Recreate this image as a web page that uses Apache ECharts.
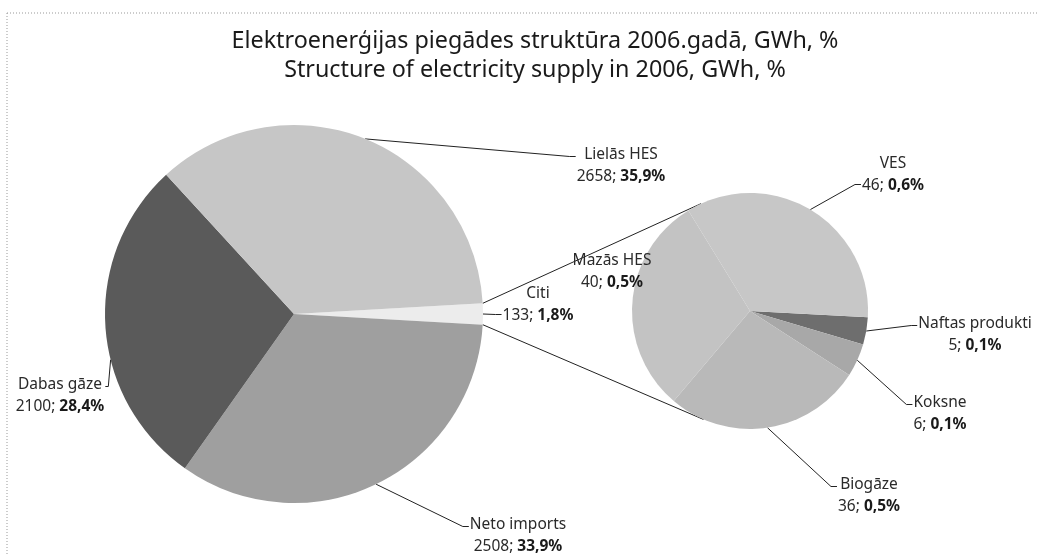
<!DOCTYPE html>
<html>
<head>
<meta charset="utf-8">
<script src="https://cdn.jsdelivr.net/npm/echarts@6/dist/echarts.min.js"></script>
<style>
  html, body { margin: 0; padding: 0; background: #fff; }
  #chart { width: 1038px; height: 555px; }
</style>
</head>
<body>
<div id="chart"></div>
<script>
// main pie, clockwise from the right
const mainNames = ['Citi', 'Neto imports', 'Dabas gāze', 'Lielās HES'];
const mainValues = [133, 2508, 2100, 2658];
// secondary pie (breakdown of Citi), clockwise from the right
const subNames = ['Naftas produkti', 'Koksne', 'Biogāze', 'Mazās HES', 'VES'];
const subValues = [5, 6, 36, 40, 46];

const mainColors = ['#ececec', '#9f9f9f', '#5a5a5a', '#c6c6c6'];
const subColors = ['#6e6e6e', '#a8a8a8', '#b9b9b9', '#c3c3c3', '#c7c7c7'];

// label centres
const labelPos = {
  'Lielās HES': [621, 166],
  'Neto imports': [518, 536],
  'Dabas gāze': [60, 396],
  'Citi': [538, 305],
  'VES': [893, 175],
  'Mazās HES': [612, 272],
  'Naftas produkti': [975, 335],
  'Koksne': [940, 414],
  'Biogāze': [869, 496]
};
// leader joins the second text line for these
const secondLine = ['VES', 'Citi'];

const total = mainValues.reduce((a, b) => a + b, 0);
const fmtPct = v => (v / total * 100).toFixed(1).replace('.', ',');

const mainC = [294, 314], mainR = 189;
const subC = [750, 311], subR = 118;
const mainStart = mainValues[0] / total * 180;
const subStart = -3;

// mid angle (deg, math convention) of every slice
function midAngles(values, start) {
  const sum = values.reduce((a, b) => a + b, 0);
  let acc = 0;
  return values.map(v => {
    const a = start - (acc + v / 2) / sum * 360;
    acc += v;
    return a;
  });
}
const mainMid = midAngles(mainValues, mainStart);
const subMid = midAngles(subValues, subStart);
mainMid[mainNames.indexOf('Dabas gāze')] = -166;

// connector lines: from the Citi slice corners, tangent to the small pie
function connector(sign) {
  const a = sign * mainStart * Math.PI / 180;
  const p = [mainC[0] + mainR * Math.cos(a), mainC[1] - mainR * Math.sin(a)];
  const dx = p[0] - subC[0], dy = p[1] - subC[1];
  const d = Math.sqrt(dx * dx + dy * dy);
  const base = Math.atan2(dy, dx);
  const off = Math.acos(subR / d);
  const t = base + (sign > 0 ? off : -off);
  return { x1: p[0], y1: p[1], x2: subC[0] + subR * Math.cos(t), y2: subC[1] + subR * Math.sin(t) };
}

function makeLayout(names, mids, c, r) {
  return p => {
    const name = names[p.dataIndex];
    const pos = labelPos[name];
    const w = p.labelRect.width, h = p.labelRect.height;
    const a = mids[p.dataIndex] * Math.PI / 180;
    const edge = [c[0] + r * Math.cos(a), c[1] - r * Math.sin(a)];
    const right = pos[0] > edge[0];
    const ly = pos[1] + (secondLine.indexOf(name) >= 0 ? h / 4 : -h / 4);
    const anchor = [right ? pos[0] - w / 2 - 1 : pos[0] + w / 2 + 1, ly];
    const elbow = [anchor[0] + (right ? -6 : 3), ly];
    return {
      x: pos[0], y: pos[1], align: 'center', verticalAlign: 'middle',
      labelLinePoints: [edge, elbow, anchor]
    };
  };
}

const labelText = {
  formatter: p => '{n|' + p.name + '}\n{v|' + p.value + '; }{b|' + fmtPct(p.value) + '%}',
  rich: {
    n: { fontSize: 15.5, color: '#2a2a2a', fontFamily: 'Noto Sans', lineHeight: 22 },
    v: { fontSize: 15.5, color: '#2a2a2a', fontFamily: 'Noto Sans', lineHeight: 22 },
    b: { fontSize: 15.5, color: '#1a1a1a', fontFamily: 'Noto Sans', fontWeight: 'bold', lineHeight: 22 }
  }
};
const lineStyle = { show: true, lineStyle: { color: '#222', width: 1 }, smooth: false };

const chart = echarts.init(document.getElementById('chart'));
chart.setOption({
  animation: false,
  backgroundColor: '#fff',
  title: {
    text: 'Elektroenerģijas piegādes struktūra 2006.gadā, GWh, %\nStructure of electricity supply in 2006, GWh, %',
    left: 530,
    textAlign: 'center',
    top: 22,
    textStyle: { fontFamily: 'Noto Sans', fontSize: 23.3, fontWeight: 'normal', color: '#1a1a1a', lineHeight: 29 }
  },
  graphic: [
    { type: 'line', shape: { x1: 7, y1: 13, x2: 1038, y2: 13 }, style: { stroke: '#999', lineWidth: 1, lineDash: [1, 2] } },
    { type: 'line', shape: { x1: 7, y1: 13, x2: 7, y2: 555 }, style: { stroke: '#999', lineWidth: 1, lineDash: [1, 2] } },
    { type: 'line', shape: connector(1), style: { stroke: '#222', lineWidth: 1 } },
    { type: 'line', shape: connector(-1), style: { stroke: '#222', lineWidth: 1 } }
  ],
  series: [
    {
      type: 'pie',
      center: mainC,
      radius: mainR,
      startAngle: mainStart,
      clockwise: true,
      avoidLabelOverlap: false,
      silent: true,
      itemStyle: { borderWidth: 0 },
      label: Object.assign({ show: true, position: 'outside' }, labelText),
      labelLine: lineStyle,
      labelLayout: makeLayout(mainNames, mainMid, mainC, mainR),
      data: mainNames.map((n, i) => ({ name: n, value: mainValues[i], itemStyle: { color: mainColors[i] } }))
    },
    {
      type: 'pie',
      center: subC,
      radius: subR,
      startAngle: subStart,
      clockwise: true,
      avoidLabelOverlap: false,
      silent: true,
      itemStyle: { borderWidth: 0 },
      label: Object.assign({ show: true, position: 'outside' }, labelText),
      labelLine: lineStyle,
      labelLayout: makeLayout(subNames, subMid, subC, subR),
      data: subNames.map((n, i) => ({
        name: n, value: subValues[i], itemStyle: { color: subColors[i] },
        labelLine: n === 'Mazās HES' ? { show: false } : undefined
      }))
    }
  ]
});
</script>
</body>
</html>
